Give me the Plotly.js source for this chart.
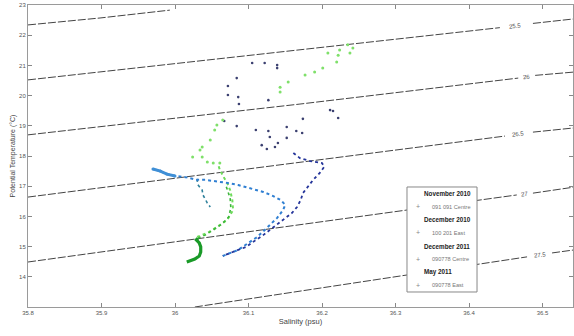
<!DOCTYPE html>
<html><head><meta charset="utf-8">
<script src="https://cdn.plot.ly/plotly-3.0.1.min.js"></script>
<style>html,body{margin:0;padding:0;background:#fff;overflow:hidden}</style>
</head><body><div id="chart" style="width:574px;height:336px"></div>
<script>
// ---- axes ----
const xTickVals = [35.8, 35.9, 36, 36.1, 36.2, 36.3, 36.4, 36.5];
const xTickText = ['35.8', '35.9', '36', '36.1', '36.2', '36.3', '36.4', '36.5'];
const yTickVals = [14, 15, 16, 17, 18, 19, 20, 21, 22, 23];
const yTickText = ['14', '15', '16', '17', '18', '19', '20', '21', '22', '23'];

// ---- isopycnals (sigma-theta); null = label gap ----
const isoA_S = [35.8, 35.898, 35.993];
const isoA_T = [22.34, 22.57, 22.83];
const isoB_S = [35.8, 36.170, 36.442, null, 36.487, 36.543];
const isoB_T = [20.52, 21.51, 22.25, null, 22.39, 22.54];
const isoC_S = [35.8, 36.170, 36.467, null, 36.490, 36.543];
const isoC_T = [18.70, 19.72, 20.58, null, 20.67, 20.78];
const isoD_S = [35.8, 36.170, 36.449, null, 36.487, 36.543];
const isoD_T = [16.64, 17.80, 18.66, null, 18.79, 18.93];
const isoE_S = [35.8, 36.156, 36.316, 36.411, 36.465, null, 36.487, 36.543];
const isoE_T = [14.49, 15.68, 16.21, 16.53, 16.71, null, 16.77, 16.97];
const isoF_S = [36.027, 36.170, 36.316, 36.411, 36.479, null, 36.513, 36.543];
const isoF_T = [13.0, 13.53, 14.07, 14.41, 14.66, null, 14.79, 14.89];
const isoLabels = ['25.5', '26', '26.5', '27', '27.5'];
const isoLabelS = [36.463, 36.478, 36.467, 36.476, 36.496];
const isoLabelT = [22.31, 20.62, 18.72, 16.74, 14.72];

// ---- November 2010 (navy) ----
const novProfS = [36.161,36.170,36.184,36.200,36.203,36.197,36.188,36.180,36.174,36.171,36.166,36.159,36.147,36.133,36.120,36.106,36.097,36.086,36.075,36.065];
const novProfT = [18.10,17.93,17.83,17.77,17.64,17.44,17.21,16.97,16.77,16.54,16.31,16.11,15.88,15.62,15.38,15.15,14.99,14.89,14.79,14.69];
const novScatS = [36.105,36.122,36.139,36.139,36.084,36.072,36.072,36.086,36.087,36.127,36.067,36.084,36.110,36.127,36.152,36.165,36.173,36.129,36.118,36.140,36.152,36.125,36.136,36.211,36.215,36.222,36.174];
const novScatT = [21.08,21.08,21.01,20.91,20.58,20.32,20.02,19.95,19.72,19.85,19.16,18.99,18.86,18.83,18.96,18.83,18.76,18.63,18.36,18.43,18.60,18.23,18.30,19.52,19.49,19.26,19.23];

// ---- December 2010 (blue) ----
const decProfS = [36.065,36.075,36.086,36.098,36.112,36.125,36.139,36.147,36.150,36.144,36.133,36.120,36.102,36.086,36.071,36.054,36.041,36.030,36.014,36.000,35.989,35.980,35.970];
const decProfT = [14.69,14.79,14.89,15.09,15.32,15.62,15.95,16.21,16.38,16.54,16.68,16.81,16.94,17.04,17.11,17.17,17.21,17.21,17.30,17.34,17.40,17.50,17.57];
const decBranchS = [36.030,36.031,36.037,36.038,36.041,36.044,36.048];
const decBranchT = [17.24,17.05,16.87,16.71,16.58,16.44,16.31];

// ---- December 2011 (light green) ----
const d11ProfS = [36.030,36.044,36.057,36.071,36.079,36.078,36.075,36.071,36.067,36.061,36.059];
const d11ProfT = [15.32,15.45,15.65,15.88,16.21,16.54,16.87,17.11,17.27,17.54,17.70];
const d11ScatS = [36.052,36.044,36.037,36.024,36.061,36.034,36.037,36.048,36.054,36.057,36.065,36.143,36.143,36.154,36.177,36.190,36.201,36.220,36.222,36.238,36.242,36.235,36.224,36.208];
const d11ScatT = [17.77,17.80,17.97,17.97,17.77,18.20,18.30,18.53,18.86,19.03,19.19,20.12,20.28,20.45,20.68,20.78,20.91,21.11,21.34,21.41,21.58,21.68,21.51,21.41];

// ---- May 2011 (dark green) ----
const mayProfS = [36.016,36.020,36.027,36.033,36.035,36.035,36.033,36.029,36.031];
const mayProfT = [14.49,14.52,14.59,14.69,14.82,14.99,15.12,15.22,15.28];
const mayUpS = [36.031,36.041,36.052,36.064,36.073,36.076,36.075,36.072,36.069];
const mayUpT = [15.28,15.38,15.55,15.75,15.98,16.28,16.61,16.87,17.04];

// ---- legend ----
const legendTitles = ['November 2010', 'December 2010', 'December 2011', 'May 2011'];
const legendItems = ['091 091 Centre', '100 201 East', '090778 Centre', '090778 East'];

const isoStyle = {color: '#444', width: 1, dash: '8px,2px'};
const traces = [];
[[isoA_S, isoA_T], [isoB_S, isoB_T], [isoC_S, isoC_T], [isoD_S, isoD_T], [isoE_S, isoE_T], [isoF_S, isoF_T]]
  .forEach(p => traces.push({x: p[0], y: p[1], mode: 'lines', line: isoStyle, hoverinfo: 'skip', showlegend: false}));

traces.push({x: novScatS, y: novScatT, mode: 'markers', marker: {color: '#3b4070', size: 2.6}, showlegend: false});
traces.push({x: d11ScatS, y: d11ScatT, mode: 'markers', marker: {color: '#7fe06a', size: 3}, showlegend: false});
traces.push({x: decBranchS, y: decBranchT, mode: 'lines', line: {color: '#2c7f9a', width: 1.6, dash: 'dot'}, showlegend: false});
traces.push({x: d11ProfS, y: d11ProfT, mode: 'lines', line: {color: '#6fdc5c', width: 2, dash: 'dot'}, showlegend: false});
traces.push({x: mayUpS, y: mayUpT, mode: 'lines', line: {color: '#3cb63a', width: 1.6, dash: 'dot'}, showlegend: false});
traces.push({x: mayProfS, y: mayProfT, mode: 'lines', line: {color: '#1a9a28', width: 3.2}, showlegend: false});
traces.push({x: decProfS, y: decProfT, mode: 'lines', line: {color: '#2f7fd2', width: 2, dash: 'dot'}, showlegend: false});
traces.push({x: decProfS.slice(-4), y: decProfT.slice(-4), mode: 'lines+markers', line: {color: '#3f8fd6', width: 3}, marker: {size: 3, color: '#3f8fd6'}, showlegend: false});
traces.push({x: novProfS, y: novProfT, mode: 'lines', line: {color: '#25359a', width: 1.8, dash: 'dot'}, showlegend: false});

const annotations = isoLabels.map((t, i) => ({
  x: isoLabelS[i], y: isoLabelT[i], xref: 'x', yref: 'y', text: t, showarrow: false,
  font: {family: 'Liberation Sans, Arial, sans-serif', size: 6, color: '#444'}, textangle: -6
}));

// manual legend box (paper coords)
const lx0 = 0.6954, lx1 = 0.8239, ly0 = 0.0497, ly1 = 0.3974;
const rowH = (ly1 - ly0) / 8;
legendTitles.forEach((t, i) => {
  annotations.push({xref: 'paper', yref: 'paper', x: 0.7225, y: ly1 - rowH * (2 * i + 0.5), text: '<b>' + t + '</b>',
    xanchor: 'left', yanchor: 'middle', showarrow: false,
    font: {family: 'Liberation Sans, Arial, sans-serif', size: 6.3, color: '#222'}});
  annotations.push({xref: 'paper', yref: 'paper', x: 0.7155, y: ly1 - rowH * (2 * i + 1.5), text: '+',
    xanchor: 'center', yanchor: 'middle', showarrow: false,
    font: {family: 'Liberation Sans, Arial, sans-serif', size: 7, color: '#888'}});
  annotations.push({xref: 'paper', yref: 'paper', x: 0.7385, y: ly1 - rowH * (2 * i + 1.5), text: legendItems[i],
    xanchor: 'left', yanchor: 'middle', showarrow: false,
    font: {family: 'Liberation Sans, Arial, sans-serif', size: 5.6, color: '#777'}});
});

const axisCommon = {
  showgrid: false, zeroline: false, ticks: 'inside', ticklen: 4, tickwidth: 1, tickcolor: '#888',
  showline: true, linecolor: '#9a9a9a', linewidth: 1, mirror: 'ticks',
  tickfont: {family: 'Liberation Sans, Arial, sans-serif', size: 6, color: '#555'}
};

const layout = {
  width: 574, height: 336,
  margin: {l: 28, r: 1, t: 5, b: 29},
  paper_bgcolor: '#fff', plot_bgcolor: '#fff',
  showlegend: false,
  xaxis: Object.assign({}, axisCommon, {
    range: [35.8, 36.5415], tickvals: xTickVals, ticktext: xTickText,
    title: {text: 'Salinity (psu)', standoff: 3, font: {family: 'Liberation Sans, Arial, sans-serif', size: 7.5, color: '#444'}}
  }),
  yaxis: Object.assign({}, axisCommon, {
    range: [13, 23], tickvals: yTickVals, ticktext: yTickText,
    title: {text: 'Potential Temperature (°C)', standoff: 2, font: {family: 'Liberation Sans, Arial, sans-serif', size: 7, color: '#444'}}
  }),
  shapes: [{type: 'rect', xref: 'paper', yref: 'paper', x0: lx0, x1: lx1, y0: ly0, y1: ly1,
    line: {color: '#888', width: 1}, fillcolor: '#fff', layer: 'above'}],
  annotations: annotations
};

Plotly.newPlot('chart', traces, layout, {displayModeBar: false, staticPlot: true});
</script></body></html>
